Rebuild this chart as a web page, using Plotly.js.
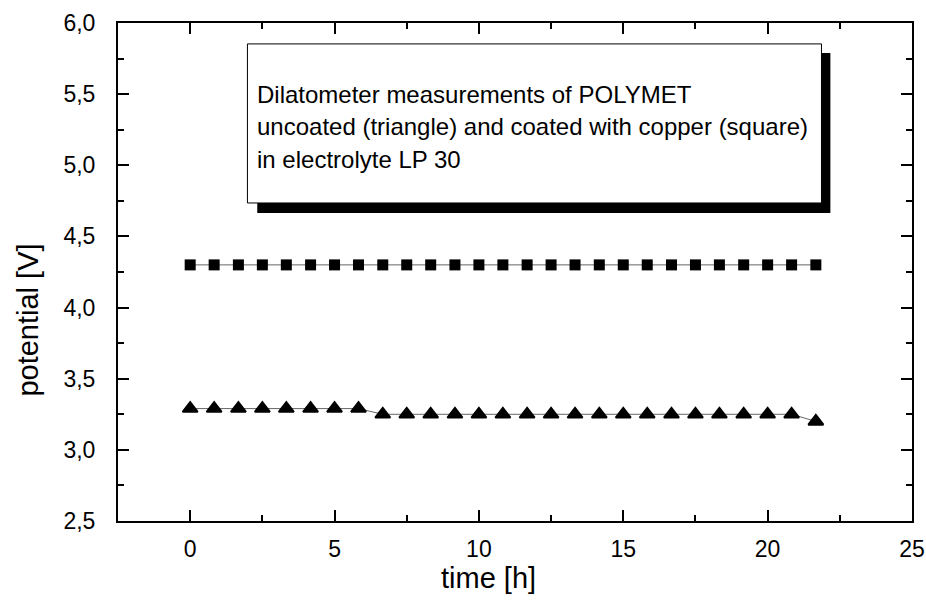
<!DOCTYPE html>
<html>
<head>
<meta charset="utf-8">
<script src="https://cdn.plot.ly/plotly-3.0.1.min.js"></script>
<style>
  html, body { margin: 0; padding: 0; background: #fff; }
  #chart { width: 926px; height: 602px; }
</style>
</head>
<body>
<div id="chart"></div>
<script>
// time in hours
const timeH = [0, 0.83, 1.67, 2.5, 3.33, 4.17, 5, 5.83, 6.67, 7.5, 8.33, 9.17, 10, 10.83,
  11.67, 12.5, 13.33, 14.17, 15, 15.83, 16.67, 17.5, 18.33, 19.17, 20, 20.83, 21.67];
// coated with copper (square)
const coatedV = [4.30, 4.30, 4.30, 4.30, 4.30, 4.30, 4.30, 4.30, 4.30, 4.30, 4.30, 4.30, 4.30, 4.30,
  4.30, 4.30, 4.30, 4.30, 4.30, 4.30, 4.30, 4.30, 4.30, 4.30, 4.30, 4.30, 4.30];
// uncoated (triangle)
const uncoatedV = [3.29, 3.29, 3.29, 3.29, 3.29, 3.29, 3.29, 3.29, 3.25, 3.25, 3.25, 3.25, 3.25, 3.25,
  3.25, 3.25, 3.25, 3.25, 3.25, 3.25, 3.25, 3.25, 3.25, 3.25, 3.25, 3.25, 3.20];
const xTicks = [0, 5, 10, 15, 20, 25];
const yTicks = [2.5, 3.0, 3.5, 4.0, 4.5, 5.0, 5.5, 6.0];
const xTitle = "time [h]";
const yTitle = "potential [V]";
const noteLines = [
  "Dilatometer measurements of POLYMET",
  "uncoated (triangle) and coated with copper (square)",
  "in electrolyte LP 30"
];

const FONT = "Liberation Sans, Arial, Helvetica, sans-serif";

const traces = [
  {
    x: timeH, y: coatedV, type: "scatter", mode: "lines+markers",
    name: "coated with copper",
    line: { color: "#666666", width: 1 },
    marker: { symbol: "square", size: 11, color: "#000000" }
  },
  {
    x: timeH, y: uncoatedV, type: "scatter", mode: "lines+markers",
    name: "uncoated",
    line: { color: "#666666", width: 1 },
    marker: { symbol: "triangle-up", size: 13, color: "#000000",
      line: { color: "#000000", width: 2 } }
  }
];

const axisCommon = {
  showgrid: false, zeroline: false,
  showline: true, linecolor: "#000", linewidth: 2,
  mirror: "ticks", ticks: "inside", ticklen: 11, tickwidth: 2, tickcolor: "#000",
  ticklabeloverflow: "allow",
  tickfont: { family: FONT, size: 23, color: "#000" }
};

const layout = {
  width: 926, height: 602,
  margin: { l: 118, r: 14, t: 23, b: 81 },
  paper_bgcolor: "#fff", plot_bgcolor: "#fff",
  showlegend: false,
  font: { family: FONT, color: "#000" },
  xaxis: Object.assign({}, axisCommon, {
    range: [-2.5, 25.0001],
    tickmode: "array", tickvals: xTicks, ticktext: xTicks.map(String),
    ticklabelstandoff: 6,
    minor: { dtick: 2.5, tick0: 0, ticks: "inside", ticklen: 6, tickwidth: 2, tickcolor: "#000", showgrid: false }
  }),
  yaxis: Object.assign({}, axisCommon, {
    range: [2.5, 6.0],
    tickmode: "array", tickvals: yTicks, ticktext: yTicks.map(v => v.toFixed(1).replace(".", ",")),
    ticklabelstandoff: 16,
    minor: { dtick: 0.25, tick0: 2.5, ticks: "inside", ticklen: 6, tickwidth: 2, tickcolor: "#000", showgrid: false }
  }),
  shapes: [
    { type: "rect", xref: "paper", yref: "paper", x0: 0.1754, x1: 0.8972, y0: 0.6185, y1: 0.9398,
      fillcolor: "#000", line: { width: 0 }, layer: "above" },
    { type: "rect", xref: "paper", yref: "paper", x0: 0.163, x1: 0.886, y0: 0.6386, y1: 0.958,
      fillcolor: "#fff", line: { color: "#000", width: 1 }, layer: "above" }
  ],
  annotations: noteLines.map((t, i) => ({
    text: t, xref: "paper", yref: "paper", x: 0.173, y: [0.857, 0.792, 0.726][i],
    xanchor: "left", yanchor: "middle", showarrow: false,
    font: { family: FONT, size: 24, color: "#000" }
  })).concat([
    { text: xTitle, xref: "paper", yref: "paper", x: 0.466, y: -0.115,
      xanchor: "center", yanchor: "middle", showarrow: false,
      font: { family: FONT, size: 29, color: "#000" } },
    { text: yTitle, xref: "paper", yref: "paper", x: -0.113, y: 0.403, textangle: -90,
      xanchor: "center", yanchor: "middle", showarrow: false,
      font: { family: FONT, size: 29, color: "#000" } }
  ])
};

Plotly.newPlot("chart", traces, layout, { displayModeBar: false, staticPlot: true });
</script>
</body>
</html>
